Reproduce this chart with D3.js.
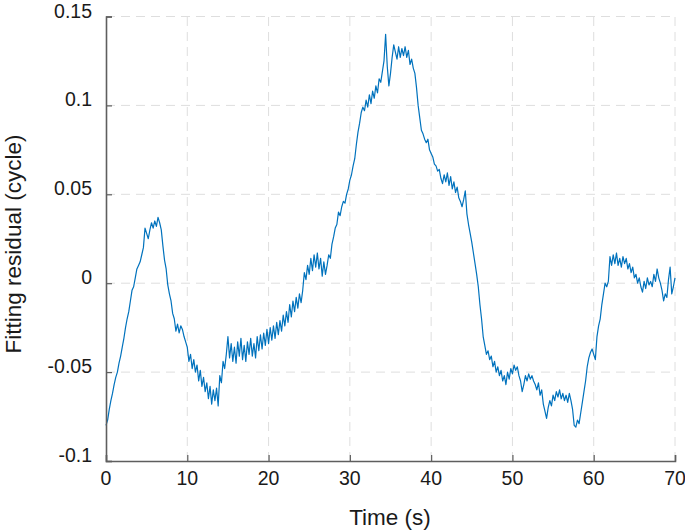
<!DOCTYPE html>
<html>
<head>
<meta charset="utf-8">
<script src="https://cdn.jsdelivr.net/npm/d3@7"></script>
<style>
  body { margin: 0; background: #fff; }
  svg { display: block; }
  text { font-family: "Liberation Sans", Arial, Helvetica, sans-serif; fill: #1a1a1a; }
</style>
</head>
<body>
<div id="viz"></div>
<script>
const width = 685;
const height = 531;
const margin = {top: 16.5, right: 10, bottom: 70, left: 106};
const lineColor = '#0072BD';

// sampling of the trace
const t0 = 0;
const dt = 0.2;

// fitting residual (cycle), one row per second
const residual = [
  -0.080, -0.077, -0.071, -0.066, -0.062,
  -0.057, -0.053, -0.050, -0.045, -0.041,
  -0.036, -0.031, -0.025, -0.020, -0.016,
  -0.010, -0.004, -0.002, 0.003, 0.008,
  0.010, 0.012, 0.016, 0.020, 0.031,
  0.028, 0.025, 0.030, 0.034, 0.031,
  0.035, 0.032, 0.037, 0.034, 0.030,
  0.021, 0.013, 0.008, -0.001, -0.006,
  -0.010, -0.017, -0.020, -0.027, -0.023,
  -0.028, -0.024, -0.026, -0.030, -0.033,
  -0.036, -0.044, -0.040, -0.048, -0.043,
  -0.050, -0.046, -0.055, -0.049, -0.058,
  -0.053, -0.061, -0.056, -0.065, -0.058,
  -0.068, -0.060, -0.066, -0.059, -0.069,
  -0.052, -0.056, -0.044, -0.048, -0.040,
  -0.030, -0.042, -0.034, -0.044, -0.036,
  -0.045, -0.033, -0.041, -0.031, -0.043,
  -0.035, -0.044, -0.033, -0.040, -0.031,
  -0.041, -0.034, -0.042, -0.030, -0.038,
  -0.029, -0.037, -0.028, -0.035, -0.026,
  -0.034, -0.025, -0.032, -0.024, -0.031,
  -0.022, -0.029, -0.021, -0.027, -0.018,
  -0.024, -0.016, -0.022, -0.012, -0.019,
  -0.010, -0.016, -0.008, -0.014, -0.006,
  -0.011, -0.004, 0.006, 0.002, 0.010,
  0.005, 0.014, 0.007, 0.016, 0.009,
  0.017, 0.008, 0.014, 0.004, 0.012,
  0.005, 0.010, 0.016, 0.014, 0.022,
  0.026, 0.031, 0.033, 0.040, 0.038,
  0.043, 0.046, 0.045, 0.050, 0.053,
  0.058, 0.061, 0.066, 0.070, 0.078,
  0.085, 0.090, 0.096, 0.099, 0.097,
  0.103, 0.099, 0.106, 0.101, 0.108,
  0.104, 0.111, 0.107, 0.115, 0.113,
  0.119, 0.125, 0.140, 0.122, 0.111,
  0.118, 0.127, 0.134, 0.130, 0.126,
  0.133, 0.127, 0.132, 0.128, 0.133,
  0.127, 0.131, 0.123, 0.126, 0.121,
  0.118, 0.110, 0.100, 0.093, 0.086,
  0.084, 0.081, 0.079, 0.081, 0.075,
  0.073, 0.071, 0.067, 0.066, 0.063,
  0.064, 0.059, 0.056, 0.061, 0.057,
  0.062, 0.055, 0.060, 0.053, 0.057,
  0.051, 0.054, 0.048, 0.046, 0.043,
  0.047, 0.052, 0.039, 0.033, 0.028,
  0.023, 0.017, 0.011, 0.005, -0.002,
  -0.012, -0.020, -0.030, -0.035, -0.040,
  -0.038, -0.043, -0.041, -0.047, -0.044,
  -0.050, -0.047, -0.052, -0.049, -0.055,
  -0.052, -0.057, -0.050, -0.054, -0.048,
  -0.051, -0.046, -0.049, -0.047, -0.052,
  -0.055, -0.061, -0.057, -0.052, -0.055,
  -0.051, -0.054, -0.052, -0.055, -0.057,
  -0.060, -0.056, -0.063, -0.060, -0.068,
  -0.072, -0.076, -0.070, -0.066, -0.069,
  -0.063, -0.066, -0.061, -0.064, -0.060,
  -0.065, -0.062, -0.066, -0.063, -0.067,
  -0.062, -0.066, -0.071, -0.080, -0.081,
  -0.077, -0.079, -0.073, -0.067, -0.061,
  -0.055, -0.047, -0.042, -0.039, -0.037,
  -0.040, -0.043, -0.030, -0.024, -0.020,
  -0.012, -0.006, 0.000, -0.002, 0.001,
  0.015, 0.010, 0.016, 0.011, 0.017,
  0.010, 0.014, 0.009, 0.015, 0.011,
  0.014, 0.008, 0.011, 0.006, 0.009,
  0.003, 0.005, 0.000, 0.003, -0.002,
  -0.005, 0.001, -0.003, 0.003, -0.001,
  0.001, -0.002, 0.005, 0.001, 0.008,
  0.003, 0.000, -0.004, -0.010, -0.006,
  -0.008, 0.002, 0.009, -0.006, -0.002,
  0.003
];

const xTicks = [0, 10, 20, 30, 40, 50, 60, 70];
const yTicks = [-0.1, -0.05, 0, 0.05, 0.1, 0.15];
const yTickLabels = ['-0.1', '-0.05', '0', '0.05', '0.1', '0.15'];

const data = residual.map((v, i) => ({t: t0 + i * dt, v: v}));

const x = d3.scaleLinear()
  .domain([0, 70])
  .range([margin.left, 675]);

const y = d3.scaleLinear()
  .domain([-0.1, 0.15])
  .range([461, margin.top]);

const svg = d3.select('#viz')
  .append('svg')
  .attr('width', width)
  .attr('height', height);

// grid, dashed like matlab
const grid = svg.append('g').attr('class', 'grid')
  .attr('stroke', '#dedede')
  .attr('stroke-width', 1)
  .attr('stroke-dasharray', '9,6');

grid.selectAll('.vgrid')
  .data(xTicks.slice(1))
  .join('line')
    .attr('x1', d => x(d)).attr('x2', d => x(d))
    .attr('y1', y(-0.1)).attr('y2', y(0.15));

grid.selectAll('.hgrid')
  .data(yTicks.slice(1))
  .join('line')
    .attr('x1', x(0)).attr('x2', x(70))
    .attr('y1', d => y(d)).attr('y2', d => y(d));

// the trace
const line = d3.line()
  .x(d => x(d.t))
  .y(d => y(d.v));

svg.append('path')
  .datum(data)
  .attr('d', line)
  .attr('fill', 'none')
  .attr('stroke', lineColor)
  .attr('stroke-width', 1.2)
  .attr('stroke-linejoin', 'round');

// axes, ticks pointing inward
const xAxis = svg.append('g')
  .attr('transform', `translate(0, ${y(-0.1)})`)
  .call(d3.axisTop(x).tickValues(xTicks).tickSize(6).tickFormat(''));

const yAxis = svg.append('g')
  .attr('transform', `translate(${x(0)}, 0)`)
  .call(d3.axisRight(y).tickValues(yTicks).tickSize(6).tickFormat(''));

[xAxis, yAxis].forEach(g => {
  g.select('.domain').attr('stroke', '#5e5e5e').attr('stroke-width', 1.6);
  g.selectAll('.tick line').attr('stroke', '#5e5e5e').attr('stroke-width', 1.2);
});

// tick labels
svg.selectAll('.x-label')
  .data(xTicks)
  .join('text')
    .attr('x', d => x(d))
    .attr('y', y(-0.1) + 24)
    .attr('text-anchor', 'middle')
    .style('font-size', '19.5px')
    .text(d => d);

svg.selectAll('.y-label')
  .data(yTicks)
  .join('text')
    .attr('x', x(0) - 14)
    .attr('y', d => y(d) + 1)
    .attr('text-anchor', 'end')
    .style('font-size', '19.5px')
    .text((d, i) => yTickLabels[i]);

// axis titles
svg.append('text')
  .attr('x', 390)
  .attr('y', 525)
  .attr('text-anchor', 'middle')
  .style('font-size', '22.5px')
  .text('Time (s)');

svg.append('text')
  .attr('transform', `translate(21, 244) rotate(-90)`)
  .attr('text-anchor', 'middle')
  .style('font-size', '22.5px')
  .text('Fitting residual (cycle)');
</script>
</body>
</html>
